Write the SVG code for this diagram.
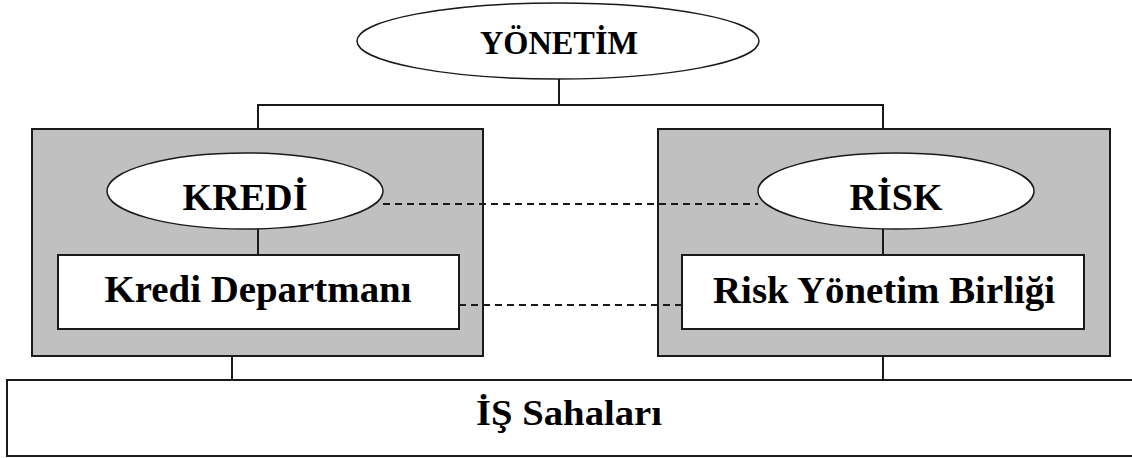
<svg xmlns="http://www.w3.org/2000/svg" width="1132" height="458" viewBox="0 0 1132 458">
<style>
.bg{fill:#ffffff}
.grp{fill:#c0c0c0;stroke:#1a1a1a;stroke-width:2}
.box{fill:#ffffff;stroke:#1a1a1a;stroke-width:2}
.ell{fill:#ffffff;stroke:#1a1a1a;stroke-width:1.5}
.ln{stroke:#1a1a1a;stroke-width:2;fill:none}
.dash{stroke:#1a1a1a;stroke-width:2;fill:none;stroke-dasharray:7 5}
.t{font-family:'Liberation Serif','Times New Roman',serif;font-weight:bold;fill:#000;text-anchor:middle}
</style>
<rect class="bg" x="0" y="0" width="1132" height="458"/>
<g id="connectors">
<line class="ln" x1="559" y1="79" x2="559" y2="105"/>
<line class="ln" x1="258" y1="105" x2="883" y2="105"/>
<line class="ln" x1="258" y1="104" x2="258" y2="129"/>
<line class="ln" x1="883" y1="104" x2="883" y2="129"/>
<line class="ln" x1="232" y1="356" x2="232" y2="380"/>
<line class="ln" x1="883" y1="356" x2="883" y2="380"/>
</g>
<g id="grp-kredi">
<rect class="grp" x="32" y="129" width="451" height="227"/>
</g>
<g id="grp-risk">
<rect class="grp" x="658" y="129" width="452" height="227"/>
</g>
<g id="inner-connectors">
<line class="ln" x1="258" y1="229" x2="258" y2="255"/>
<line class="ln" x1="883" y1="229" x2="883" y2="255"/>
<line class="dash" x1="383" y1="204" x2="758" y2="204"/>
<line class="dash" x1="459" y1="305" x2="682" y2="305"/>
</g>
<g id="yonetim">
<ellipse class="ell" cx="558" cy="41" rx="201" ry="38"/>
<text class="t" x="559" y="54" font-size="33" textLength="158" lengthAdjust="spacingAndGlyphs">YÖNETİM</text>
</g>
<g id="kredi">
<ellipse class="ell" cx="245" cy="191" rx="138" ry="38"/>
<text class="t" x="245" y="210" font-size="38" textLength="125" lengthAdjust="spacingAndGlyphs">KREDİ</text>
</g>
<g id="risk">
<ellipse class="ell" cx="896" cy="191" rx="138" ry="38"/>
<text class="t" x="896" y="210" font-size="38" textLength="93" lengthAdjust="spacingAndGlyphs">RİSK</text>
</g>
<g id="kredi-departmani">
<rect class="box" x="58" y="255" width="401" height="74"/>
<text class="t" x="258" y="302" font-size="37" textLength="307" lengthAdjust="spacingAndGlyphs">Kredi Departmanı</text>
</g>
<g id="risk-yonetim-birligi">
<rect class="box" x="682" y="255" width="402" height="74"/>
<text class="t" x="884" y="303" font-size="37" textLength="342" lengthAdjust="spacingAndGlyphs">Risk Yönetim Birliği</text>
</g>
<g id="is-sahalari">
<rect class="box" x="7" y="380" width="1140" height="76"/>
<text class="t" x="569" y="425" font-size="35" textLength="186" lengthAdjust="spacingAndGlyphs">İŞ Sahaları</text>
</g>
</svg>
